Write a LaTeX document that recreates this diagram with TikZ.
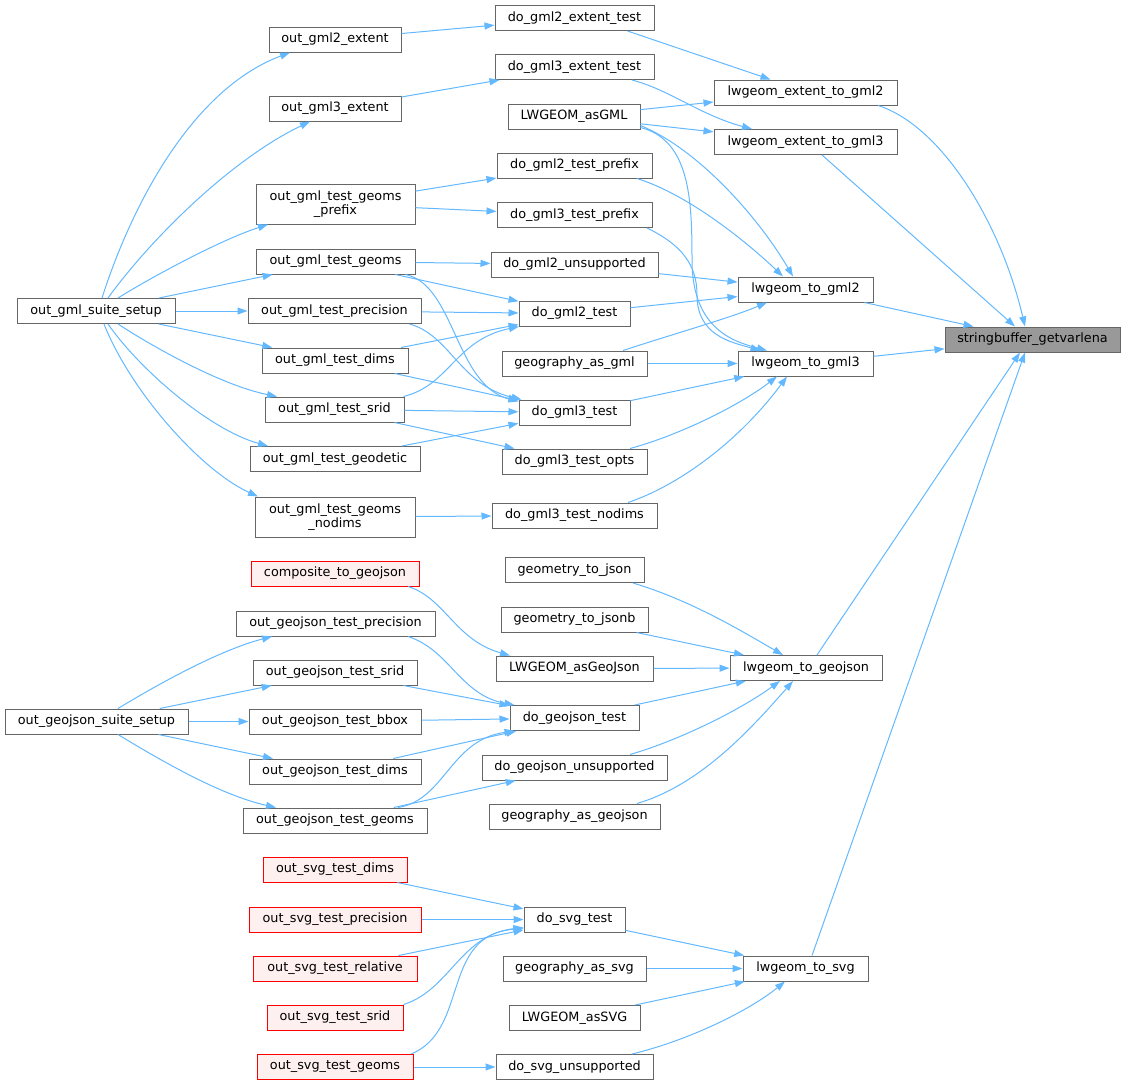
\documentclass[tikz,border=0pt]{standalone}
\usepackage{fontspec}
\setmainfont{DejaVu Sans}
\usetikzlibrary{arrows.meta}
\definecolor{edgec}{HTML}{63B8FF}
\definecolor{bordc}{HTML}{666666}
\definecolor{grayf}{HTML}{999999}
\definecolor{redf}{HTML}{FFF0F0}
\tikzset{
  nb/.style={draw=bordc, fill=white, line width=1pt, inner sep=0pt, minimum height=25pt, text=black, font=\fontsize{12.8}{14.5}\selectfont},
  nred/.style={nb, draw=red, fill=redf},
  ngray/.style={nb, fill=grayf},
  cal/.style={draw=edgec, line width=1pt, -{Triangle[length=10pt,width=7pt]}},
}
\begin{document}
\begin{tikzpicture}[x=1pt,y=-1pt]
\useasboundingbox (0,0) rectangle (1125,1085);
% column 1
\node[nb,minimum width=158pt] (setupgml) at (96,311) {out\_gml\_suite\_setup};
\node[nb,minimum width=183pt] (setupgeo) at (96.5,721.5) {out\_geojson\_suite\_setup};
% column 2
\node[nb,minimum width=132pt] (ogmlAext) at (335,39.5) {out\_gml2\_extent};
\node[nb,minimum width=132pt] (ogmlBext) at (335,108.5) {out\_gml3\_extent};
\node[nb,minimum width=159pt,minimum height=40pt,align=center] (ogeomspfx) at (335.5,204) {out\_gml\_test\_geoms\\\_prefix};
\node[nb,minimum width=159pt] (ogeoms) at (335.5,261.5) {out\_gml\_test\_geoms};
\node[nb,minimum width=173pt] (oprec) at (334.5,311) {out\_gml\_test\_precision};
\node[nb,minimum width=146pt] (odims) at (335,360.5) {out\_gml\_test\_dims};
\node[nb,minimum width=139pt] (osrid) at (334.5,409.5) {out\_gml\_test\_srid};
\node[nb,minimum width=170pt] (ogeod) at (335,459) {out\_gml\_test\_geodetic};
\node[nb,minimum width=160pt,minimum height=40pt,align=center] (onodims) at (335,517) {out\_gml\_test\_geoms\\\_nodims};
\node[nred,minimum width=168pt] (composite) at (335,573.5) {composite\_to\_geojson};
\node[nb,minimum width=199pt] (gjprec) at (335.5,623.5) {out\_geojson\_test\_precision};
\node[nb,minimum width=164pt] (gjsrid) at (335,672.5) {out\_geojson\_test\_srid};
\node[nb,minimum width=172pt] (gjbbox) at (335,721.5) {out\_geojson\_test\_bbox};
\node[nb,minimum width=172pt] (gjdims) at (335,771.5) {out\_geojson\_test\_dims};
\node[nb,minimum width=184pt] (gjgeoms) at (335,820.5) {out\_geojson\_test\_geoms};
\node[nred,minimum width=144pt] (svgdims) at (335,869.5) {out\_svg\_test\_dims};
\node[nred,minimum width=172pt] (svgprec) at (335,919.5) {out\_svg\_test\_precision};
\node[nred,minimum width=164pt] (svgrel) at (335,968.5) {out\_svg\_test\_relative};
\node[nred,minimum width=136pt] (svgsrid) at (335,1017.5) {out\_svg\_test\_srid};
\node[nred,minimum width=156pt] (svggeoms) at (335,1067) {out\_svg\_test\_geoms};
% column 3
\node[nb,minimum width=159pt] (dogmlAext) at (574.5,18) {do\_gml2\_extent\_test};
\node[nb,minimum width=159pt] (dogmlBext) at (574.5,67) {do\_gml3\_extent\_test};
\node[nb,minimum width=132pt] (asgml) at (574,116.5) {LWGEOM\_asGML};
\node[nb,minimum width=155pt] (dogmlApfx) at (574.5,165.5) {do\_gml2\_test\_prefix};
\node[nb,minimum width=155pt] (dogmlBpfx) at (574.5,215) {do\_gml3\_test\_prefix};
\node[nb,minimum width=167pt] (dogmlAuns) at (574.5,264.5) {do\_gml2\_unsupported};
\node[nb,minimum width=111pt] (dogmlA) at (574.5,313.5) {do\_gml2\_test};
\node[nb,minimum width=145pt] (geoggml) at (574.5,363.5) {geography\_as\_gml};
\node[nb,minimum width=111pt] (dogmlB) at (574.5,412.5) {do\_gml3\_test};
\node[nb,minimum width=145pt] (dogmlBopts) at (574.5,461.5) {do\_gml3\_test\_opts};
\node[nb,minimum width=165pt] (dogmlBnod) at (574.5,515.5) {do\_gml3\_test\_nodims};
\node[nb,minimum width=139pt] (geomjson) at (574.5,570) {geometry\_to\_json};
\node[nb,minimum width=147pt] (geomjsonb) at (574.5,619.5) {geometry\_to\_jsonb};
\node[nb,minimum width=157pt] (asgeojson) at (574.5,668.5) {LWGEOM\_asGeoJson};
\node[nb,minimum width=129pt] (dogj) at (574.5,718) {do\_geojson\_test};
\node[nb,minimum width=185pt] (dogjuns) at (574.5,767.5) {do\_geojson\_unsupported};
\node[nb,minimum width=171pt] (geoggj) at (574.5,816.5) {geography\_as\_geojson};
\node[nb,minimum width=101pt] (dosvg) at (574.5,919.5) {do\_svg\_test};
\node[nb,minimum width=143pt] (geogsvg) at (574.5,968.5) {geography\_as\_svg};
\node[nb,minimum width=131pt] (assvg) at (574.5,1018) {LWGEOM\_asSVG};
\node[nb,minimum width=157pt] (dosvguns) at (574.5,1067) {do\_svg\_unsupported};
% column 4
\node[nb,minimum width=183pt] (extA) at (805.5,92.5) {lwgeom\_extent\_to\_gml2};
\node[nb,minimum width=183pt] (extB) at (805.5,142) {lwgeom\_extent\_to\_gml3};
\node[nb,minimum width=135pt] (togmlA) at (805.5,289.5) {lwgeom\_to\_gml2};
\node[nb,minimum width=135pt] (togmlB) at (805.5,363.5) {lwgeom\_to\_gml3};
\node[nb,minimum width=152pt] (togj) at (806,668) {lwgeom\_to\_geojson};
\node[nb,minimum width=125pt] (tosvg) at (805.5,968.5) {lwgeom\_to\_svg};
% column 5
\node[ngray,minimum width=175pt] (sb) at (1032.5,339.5) {stringbuffer\_getvarlena};

% ---- gml suite setup
\draw[cal] ([xshift=6pt]setupgml.north) .. controls (130,210) and (190,90) .. ([xshift=-45pt]ogmlAext.south);
\draw[cal] ([xshift=12pt]setupgml.north) .. controls (150,240) and (230,160) .. ([xshift=-25pt]ogmlBext.south);
\draw[cal] ([xshift=22pt]setupgml.north) .. controls (150,278) and (220,240) .. ([xshift=-67.5pt]ogeomspfx.south);
\draw[cal] (setupgml) -- (ogeoms);
\draw[cal] (setupgml) -- (oprec);
\draw[cal] (setupgml) -- (odims);
\draw[cal] ([xshift=22pt]setupgml.south) .. controls (150,345) and (220,385) .. ([xshift=-57.5pt]osrid.north);
\draw[cal] ([xshift=12pt]setupgml.south) .. controls (140,370) and (210,430) .. ([xshift=-67pt]ogeod.north);
\draw[cal] ([xshift=8pt]setupgml.south) .. controls (130,390) and (200,470) .. ([xshift=-77pt]onodims.north);
% ---- column 2 -> 3 (gml)
\draw[cal] (ogmlAext) -- (dogmlAext);
\draw[cal] (ogmlBext) -- (dogmlBext);
\draw[cal] (ogeomspfx) -- (dogmlApfx);
\draw[cal] (ogeomspfx) -- (dogmlBpfx);
\draw[cal] (ogeoms) -- (dogmlAuns);
\draw[cal] (ogeoms) -- (dogmlA);
\draw[cal] ([xshift=70pt]ogeoms.south) .. controls (455,285) and (455,385) .. ([yshift=-2pt]dogmlB.north west);
\draw[cal] (oprec) -- (dogmlA);
\draw[cal] ([xshift=75pt]oprec.south) .. controls (450,335) and (460,385) .. ([xshift=-53pt]dogmlB.north);
\draw[cal] (odims) -- (dogmlA);
\draw[cal] (odims) -- (dogmlB);
\draw[cal] ([xshift=69pt]osrid.north) .. controls (450,385) and (455,340) .. ([xshift=-55.5pt]dogmlA.south);
\draw[cal] (osrid) -- (dogmlB);
\draw[cal] (osrid) -- (dogmlBopts);
\draw[cal] (ogeod) -- (dogmlB);
\draw[cal] (onodims) -- (dogmlBnod);
% ---- column 3 -> 4 (gml)
\draw[cal] ([xshift=53pt]dogmlAext.south) -- ([xshift=-35pt]extA.north);
\draw[cal] ([xshift=57.5pt]dogmlBext.south) .. controls (670,90) and (700,115) .. ([xshift=-53.5pt]extB.north);
\draw[cal] (asgml) -- (extA);
\draw[cal] (asgml) -- (extB);
\draw[cal] ([yshift=-9pt]asgml.east) .. controls (700,150) and (760,220) .. ([xshift=-12.5pt]togmlA.north);
\draw[cal] ([yshift=-11pt]asgml.east) .. controls (690,140) and (692,200) .. (692,260) .. controls (692,330) and (735,342) .. ([xshift=-38.5pt]togmlB.north);
\draw[cal] ([xshift=72.5pt]dogmlBpfx.south) .. controls (682,245) and (697,265) .. (697,295) .. controls (697,335) and (730,342) .. ([xshift=-45pt]togmlB.north);
\draw[cal] ([xshift=62.5pt]dogmlApfx.south) .. controls (690,195) and (750,245) .. ([xshift=-22.5pt]togmlA.north);
\draw[cal] (dogmlAuns) -- (togmlA);
\draw[cal] (dogmlA) -- (togmlA);
\draw[cal] ([xshift=48.5pt]geoggml.north) .. controls (670,335) and (730,318) .. ([xshift=-38.5pt]togmlA.south);
\draw[cal] (geoggml) -- (togmlB);
\draw[cal] (dogmlB) -- (togmlB);
\draw[cal] ([xshift=55.5pt]dogmlBopts.north) .. controls (680,435) and (740,405) .. ([xshift=-28.5pt]togmlB.south);
\draw[cal] ([xshift=53.5pt]dogmlBnod.north) .. controls (680,485) and (740,440) .. ([xshift=-18.5pt]togmlB.south);
% ---- column 4 -> stringbuffer
\draw[cal] ([xshift=72.5pt]extA.south) .. controls (940,125) and (1000,220) .. ([xshift=-7.5pt]sb.north);
\draw[cal] ([xshift=16.5pt]extB.south) -- ([xshift=-17.5pt]sb.north);
\draw[cal] (togmlA) -- (sb);
\draw[cal] (togmlB) -- (sb);
\draw[cal] ([xshift=11pt]togj.north) -- ([xshift=-12.5pt]sb.south);
\draw[cal] ([xshift=6.5pt]tosvg.north) -- ([xshift=-7.5pt]sb.south);
% ---- geojson
\draw[cal] ([xshift=73pt]composite.south) .. controls (445,598) and (455,640) .. ([xshift=-64.5pt]asgeojson.north);
\draw[cal] ([xshift=58.5pt]geomjson.south) .. controls (690,600) and (740,630) .. ([xshift=-23pt]togj.north);
\draw[cal] (geomjsonb) -- (togj);
\draw[cal] (asgeojson) -- (togj);
\draw[cal] (dogj) -- (togj);
\draw[cal] ([xshift=55.5pt]dogjuns.north) .. controls (680,740) and (740,710) .. ([xshift=-26pt]togj.south);
\draw[cal] ([xshift=62.5pt]geoggj.north) .. controls (700,785) and (750,730) .. ([xshift=-13pt]togj.south);
\draw[cal] ([xshift=72.5pt]gjprec.south) .. controls (450,650) and (460,695) .. ([xshift=-60pt]dogj.north);
\draw[cal] (gjsrid) -- (dogj);
\draw[cal] (gjbbox) -- (dogj);
\draw[cal] (gjdims) -- (dogj);
\draw[cal] ([xshift=63pt]gjgeoms.north) .. controls (445,800) and (450,740) .. ([xshift=-60pt]dogj.south);
\draw[cal] (gjgeoms) -- (dogjuns);
\draw[cal] ([xshift=21.5pt]setupgeo.north) .. controls (160,683) and (220,650) .. ([xshift=-63.5pt]gjprec.south);
\draw[cal] (setupgeo) -- (gjsrid);
\draw[cal] (setupgeo) -- (gjbbox);
\draw[cal] (setupgeo) -- (gjdims);
\draw[cal] ([xshift=21.5pt]setupgeo.south) .. controls (160,760) and (220,795) .. ([xshift=-59pt]gjgeoms.north);
% ---- svg
\draw[cal] (svgdims) -- (dosvg);
\draw[cal] (svgprec) -- (dosvg);
\draw[cal] (svgrel) -- (dosvg);
\draw[cal] (svgsrid.north east) .. controls (450,990) and (460,935) .. ([yshift=-8pt]dosvg.west);
\draw[cal] ([xshift=76pt]svggeoms.north) .. controls (470,1030) and (440,935) .. ([yshift=-9pt]dosvg.west);
\draw[cal] (svggeoms) -- (dosvguns);
\draw[cal] (dosvg) -- (tosvg);
\draw[cal] (geogsvg) -- (tosvg);
\draw[cal] (assvg) -- (tosvg);
\draw[cal] ([xshift=57.5pt]dosvguns.north) .. controls (690,1040) and (750,1010) .. ([xshift=-20.5pt]tosvg.south);
\end{tikzpicture}
\end{document}
